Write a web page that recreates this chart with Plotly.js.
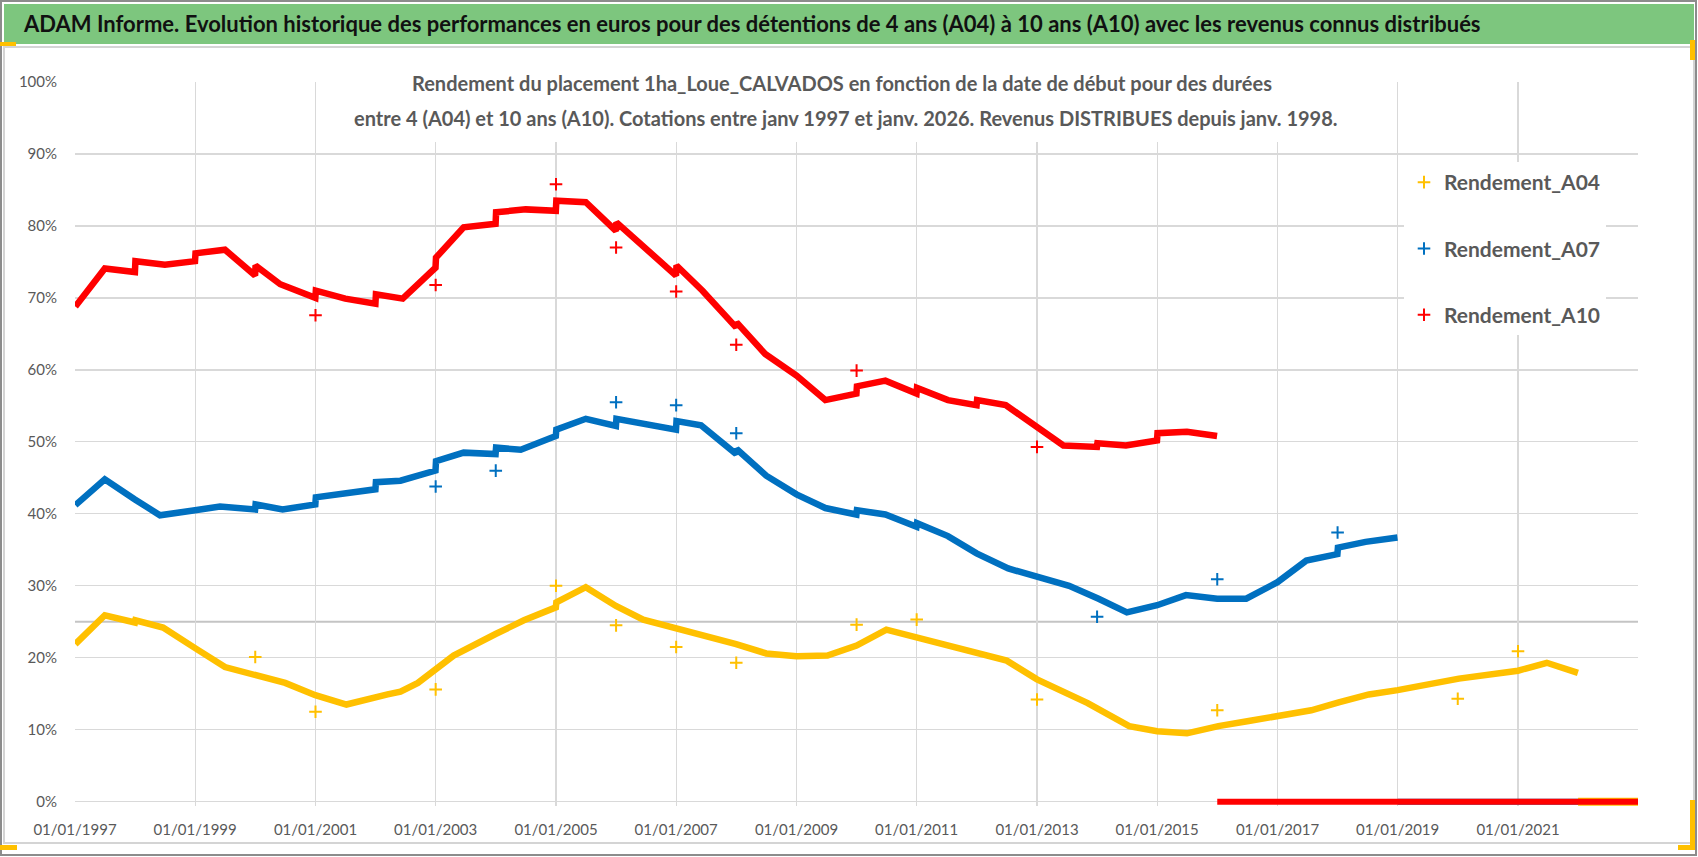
<!DOCTYPE html>
<html>
<head>
<meta charset="utf-8">
<script src="https://cdn.plot.ly/plotly-3.0.1.min.js"></script>
<style>html,body{margin:0;padding:0;background:#fff;}#chart{width:1698px;height:857px;}</style>
</head>
<body>
<div id="chart"></div>
<script>
// ---------- DATA ----------
const seriesNames = ["Rendement_A04", "Rendement_A07", "Rendement_A10"];

const a04Dates = ["1997-01-03","1997-07-01","1997-12-31","1998-01-03","1998-06-20","1998-12-31","1999-01-03","1999-07-01","1999-12-31","2000-07-01","2000-12-31","2001-07-08","2002-03-15","2002-06-01","2002-09-15","2002-12-31","2003-04-20","2003-12-31","2004-06-20","2004-12-31","2005-01-03","2005-07-01","2005-12-31","2006-06-15","2006-12-31","2007-07-01","2007-12-31","2008-07-01","2009-01-01","2009-07-08","2010-01-01","2010-07-01","2011-01-01","2012-01-01","2012-07-01","2013-01-01","2013-11-05","2014-07-15","2015-01-01","2015-07-01","2016-01-08","2016-07-10","2017-01-01","2017-07-25","2018-01-08","2018-07-10","2019-01-01","2019-08-20","2020-01-08","2021-01-01","2021-06-25","2021-12-31"];
const a04Vals  = [21.9,25.9,24.9,25.2,24.2,21.5,21.3,18.7,17.7,16.5,14.8,13.5,14.9,15.3,16.5,18.4,20.3,23.3,25.2,27.0,27.7,29.8,27.2,25.3,24.1,23.1,21.9,20.6,20.2,20.3,21.7,23.9,22.8,20.8,19.6,17.0,13.7,10.5,9.8,9.5,10.5,11.2,11.9,12.7,13.8,14.9,15.5,16.5,17.1,18.2,19.3,17.9];
const a04OutDates = ["2000-01-01","2001-01-01","2003-01-01","2005-01-01","2006-01-01","2007-01-01","2008-01-01","2010-01-01","2011-01-01","2013-01-01","2016-01-01","2020-01-01","2021-01-01"];
const a04OutVals  = [20.1,12.5,15.6,30.0,24.5,21.5,19.3,24.6,25.3,14.2,12.7,14.3,20.9];
const a04ZeroDates = ["2022-01-01","2022-12-31"];
const a04ZeroVals  = [0,0];

const a07Dates = ["1997-01-03","1997-07-01","1997-12-31","1998-06-01","1998-12-31","1999-06-01","1999-12-31","2000-01-03","2000-06-15","2000-12-31","2001-01-03","2001-12-31","2002-01-03","2002-06-01","2002-12-31","2003-01-03","2003-06-20","2003-12-31","2004-01-03","2004-06-01","2004-12-31","2005-01-03","2005-07-01","2005-12-31","2006-01-03","2006-12-31","2007-01-03","2007-06-01","2007-12-31","2008-01-03","2008-07-01","2009-01-01","2009-06-25","2009-12-31","2010-01-03","2010-06-25","2010-12-31","2011-01-03","2011-07-10","2011-12-31","2012-07-10","2013-01-01","2013-07-15","2014-01-10","2014-07-01","2015-01-01","2015-06-25","2016-01-01","2016-06-25","2017-01-01","2017-06-25","2017-12-31","2018-01-03","2018-06-20","2018-12-31"];
const a07Vals  = [41.2,44.8,42.0,39.8,40.5,41.0,40.6,41.3,40.6,41.3,42.3,43.4,44.4,44.6,46.0,47.3,48.5,48.3,49.2,48.9,50.8,51.7,53.2,52.2,53.2,51.7,52.9,52.3,48.3,49.0,45.3,42.7,40.8,39.9,40.5,39.9,38.2,38.7,36.9,34.5,32.4,31.3,30.0,28.2,26.3,27.3,28.7,28.2,28.2,30.5,33.5,34.4,35.3,36.1,36.7];
const a07OutDates = ["2003-01-01","2004-01-01","2006-01-01","2007-01-01","2008-01-01","2014-01-01","2016-01-01","2018-01-01"];
const a07OutVals  = [43.8,46.0,55.5,55.1,51.2,25.7,30.9,37.4];
const a07ZeroDates = ["2019-01-01","2022-12-31"];
const a07ZeroVals  = [0,0];

const a10Dates = ["1997-01-03","1997-07-01","1997-12-31","1998-01-03","1998-07-01","1998-12-31","1999-01-03","1999-07-01","1999-12-31","2000-01-03","2000-06-01","2000-12-31","2001-01-03","2001-07-01","2001-12-31","2002-01-03","2002-06-15","2002-12-31","2003-01-03","2003-06-20","2003-12-31","2004-01-03","2004-07-01","2004-12-31","2005-01-03","2005-07-01","2005-12-31","2006-01-03","2006-12-31","2007-01-03","2007-06-10","2007-12-31","2008-01-03","2008-06-25","2009-01-01","2009-06-25","2009-12-31","2010-01-03","2010-06-25","2010-12-31","2011-01-03","2011-07-10","2011-12-31","2012-01-03","2012-06-25","2012-12-31","2013-06-10","2013-12-31","2014-01-03","2014-06-25","2014-12-31","2015-01-03","2015-07-01","2015-12-31"];
const a10Vals  = [68.8,74.1,73.6,75.1,74.6,75.1,76.2,76.7,73.1,74.5,71.9,70.0,71.0,69.9,69.2,70.5,69.9,74.2,75.6,79.8,80.3,81.9,82.3,82.1,83.5,83.3,79.3,80.5,73.1,74.5,71.0,65.9,66.6,62.2,59.2,55.8,56.7,57.7,58.5,56.7,57.5,55.8,55.1,55.8,55.1,52.1,49.5,49.3,49.8,49.5,50.2,51.2,51.4,50.8];
const a10OutDates = ["2001-01-01","2003-01-01","2005-01-01","2006-01-01","2007-01-01","2008-01-01","2010-01-01","2013-01-01"];
const a10OutVals  = [67.6,71.8,85.8,77.0,70.9,63.5,59.9,49.3];
const a10ZeroDates = ["2016-01-01","2022-12-31"];
const a10ZeroVals  = [0,0];

const yTickVals = [0,10,20,30,40,50,60,70,80,90,100];
const yTickText = ["0%","10%","20%","30%","40%","50%","60%","70%","80%","90%","100%"];
const thresholdValue = 25;

const mainTitle = "ADAM Informe. Evolution historique des performances en euros pour des détentions de 4 ans (A04) à 10 ans (A10) avec les revenus connus distribués";
const subTitle1 = "Rendement du placement 1ha_Loue_CALVADOS en fonction de la date de début pour des durées";
const subTitle2 = "entre 4 (A04) et 10 ans (A10). Cotations entre janv 1997 et janv. 2026. Revenus DISTRIBUES depuis janv. 1998.";

// ---------- STYLE / LAYOUT ----------
const COLORS = ["#FFC000", "#0070C0", "#FF0000"];
const FONT = 'Lato, "Open Sans", sans-serif';
const TXT = "#595959";
const W = 1698, H = 857, L = 75, R = 60, T = 82;
const Y0PX = 801.7;                 // pixel row of the 0% line
const YMIN = -0.6, YMAX = 100;      // small negative pad so the 0% band is not clipped
const PPU = (Y0PX - T) / YMAX;      // pixels per percent
const PH = (YMAX - YMIN) * PPU;
const B = H - T - PH;
const PW = W - L - R;
const px = x => (x - L) / PW;
const py = y => (H - B - y) / PH;

function lineTrace(x, y, color, group, width) {
  return {type: "scatter", mode: "lines", x: x, y: y, legendgroup: group, showlegend: false,
          line: {color: color, width: width || 6.5}, hoverinfo: "skip"};
}
function outTrace(x, y, color, group, name) {
  return {type: "scatter", mode: "markers", x: x, y: y, name: name, legendgroup: group, showlegend: true,
          marker: {symbol: "cross-thin", size: 9, color: color, line: {color: color, width: 2}}};
}

const traces = [
  lineTrace(a04Dates, a04Vals, COLORS[0], "g1"),
  lineTrace(a07Dates, a07Vals, COLORS[1], "g2"),
  lineTrace(a10Dates, a10Vals, COLORS[2], "g3"),
  lineTrace(a07ZeroDates, a07ZeroVals, COLORS[1], "g2", 6),
  lineTrace(a04ZeroDates, a04ZeroVals, COLORS[0], "g1", 8),
  lineTrace(a10ZeroDates, a10ZeroVals, COLORS[2], "g3", 6),
  outTrace(a04OutDates, a04OutVals, COLORS[0], "g1", seriesNames[0]),
  outTrace(a07OutDates, a07OutVals, COLORS[1], "g2", seriesNames[1]),
  outTrace(a10OutDates, a10OutVals, COLORS[2], "g3", seriesNames[2])
];

const shapes = [
  {type: "rect", xref: "paper", yref: "paper", x0: px(1), x1: px(1696), y0: py(1), y1: py(855), line: {color: "#8c8c8c", width: 2}, fillcolor: "rgba(0,0,0,0)", layer: "below"},
  {type: "rect", xref: "paper", yref: "paper", x0: px(4), x1: px(1694), y0: py(4), y1: py(44), line: {width: 0}, fillcolor: "#7DC67E", layer: "below"},
  {type: "rect", xref: "paper", yref: "paper", x0: px(4), x1: px(1694), y0: py(47), y1: py(843), line: {color: "#d4d4d4", width: 2}, fillcolor: "rgba(0,0,0,0)", layer: "below"},
  {type: "line", xref: "paper", yref: "y", x0: 0, x1: 1, y0: thresholdValue, y1: thresholdValue, line: {color: "#c4c4c4", width: 2}, layer: "below"},
  {type: "rect", xref: "paper", yref: "paper", x0: px(347), x1: px(1367), y0: py(62), y1: py(142), line: {width: 0}, fillcolor: "#ffffff", layer: "above"},
  {type: "rect", xref: "paper", yref: "paper", x0: px(0), x1: px(16), y0: py(42), y1: py(46), line: {width: 0}, fillcolor: "#FFC000", layer: "above"},
  {type: "rect", xref: "paper", yref: "paper", x0: px(0), x1: px(17), y0: py(845), y1: py(850), line: {width: 0}, fillcolor: "#FFC000", layer: "above"},
  {type: "rect", xref: "paper", yref: "paper", x0: px(1690), x1: px(1695), y0: py(40), y1: py(60), line: {width: 0}, fillcolor: "#FFC000", layer: "above"},
  {type: "rect", xref: "paper", yref: "paper", x0: px(1690), x1: px(1695), y0: py(800), y1: py(850), line: {width: 0}, fillcolor: "#FFC000", layer: "above"},
  {type: "rect", xref: "paper", yref: "paper", x0: px(1678), x1: px(1695), y0: py(845), y1: py(850), line: {width: 0}, fillcolor: "#FFC000", layer: "above"}
];

const layout = {
  width: W, height: H,
  margin: {l: L, r: R, t: T, b: B, pad: 0},
  paper_bgcolor: "#ffffff", plot_bgcolor: "#ffffff",
  showlegend: true,
  font: {family: FONT, color: TXT},
  title: {text: mainTitle, xref: "container", yref: "container", x: 24 / W, xanchor: "left", y: 1 - 24 / H, yanchor: "middle",
          font: {family: FONT, size: 22, color: "#111111", weight: "bold"}},
  xaxis: {type: "date", range: ["1997-01-01", "2022-12-31"], tick0: "1997-01-01", dtick: "M24", tickformat: "%d/%m/%Y",
          showgrid: true, gridcolor: "#d9d9d9", gridwidth: 1.3, zeroline: false, showline: false,
          ticks: "outside", ticklen: 10, tickcolor: "rgba(0,0,0,0)", tickfont: {family: FONT, size: 15, color: TXT}},
  yaxis: {range: [YMIN, YMAX], tickmode: "array", tickvals: yTickVals, ticktext: yTickText, showgrid: true, gridcolor: "#d9d9d9", gridwidth: 1.3,
          zeroline: false, showline: false, ticks: "outside", ticklen: 14, tickcolor: "rgba(0,0,0,0)",
          tickfont: {family: FONT, size: 15, color: TXT}},
  legend: {x: px(1404), y: py(162), xanchor: "left", yanchor: "top", bgcolor: "#ffffff", borderwidth: 0,
           traceorder: "grouped", tracegroupgap: 36, font: {family: FONT, size: 21, color: TXT, weight: "bold"}},
  annotations: [
    {xref: "paper", yref: "paper", x: px(842), y: py(83), xanchor: "center", yanchor: "middle", showarrow: false,
     text: subTitle1, font: {family: FONT, size: 20, color: TXT, weight: "bold"}},
    {xref: "paper", yref: "paper", x: px(846), y: py(118), xanchor: "center", yanchor: "middle", showarrow: false,
     text: subTitle2, font: {family: FONT, size: 20, color: TXT, weight: "bold"}}
  ],
  shapes: shapes
};

Plotly.newPlot("chart", traces, layout, {displayModeBar: false, staticPlot: true});
</script>
</body>
</html>
